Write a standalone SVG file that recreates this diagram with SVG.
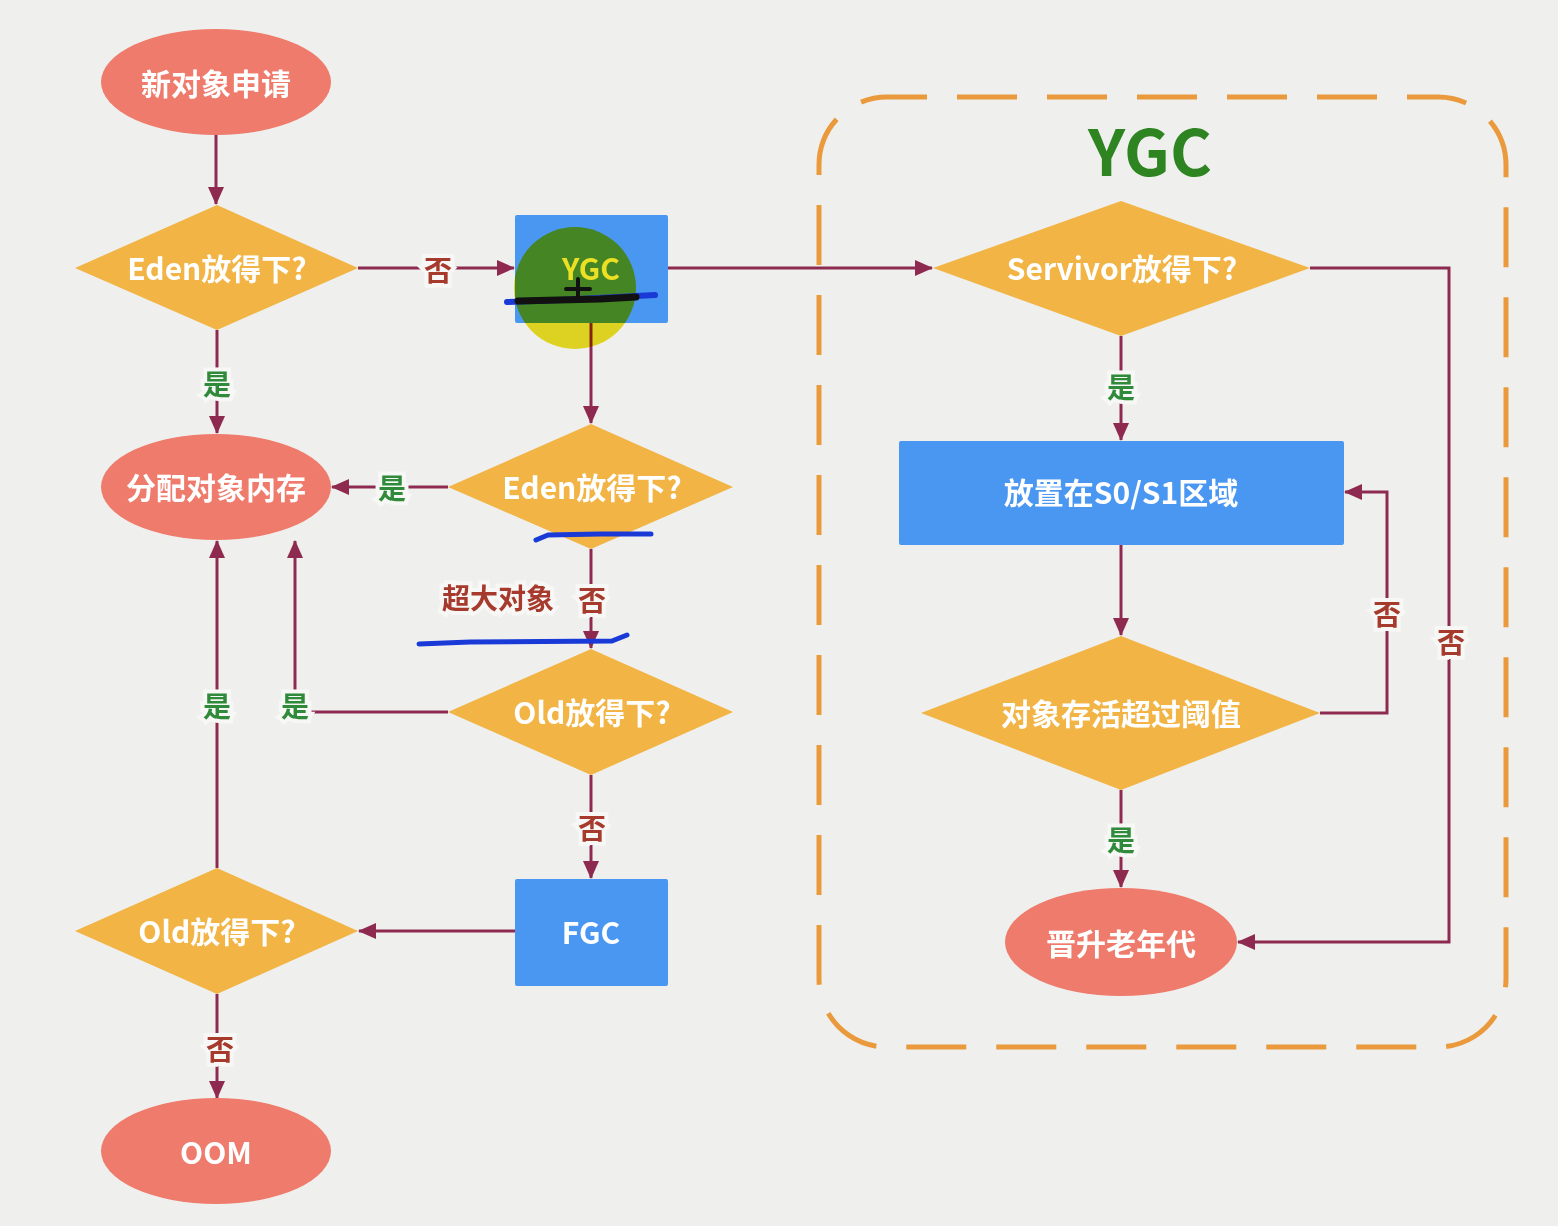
<svg xmlns="http://www.w3.org/2000/svg" width="1558" height="1226" viewBox="0 0 1558 1226">
<defs>
<marker id="arr" markerUnits="userSpaceOnUse" markerWidth="18" markerHeight="16" refX="17" refY="8" orient="auto">
<path d="M0,0 L18,8 L0,16 Z" fill="#8e2a50"/>
</marker>
<style>
.bg{fill:#eff0ee}
.ell{fill:#ee7b6b}
.dia{fill:#f1b445}
.box{fill:#4a97f2}
.nt{font-family:"Noto Sans CJK SC","Noto Sans",sans-serif;font-weight:700;font-size:30px;fill:#ffffff;text-anchor:middle;dominant-baseline:central}
.ln{fill:none;stroke:#8e2a50;stroke-width:3}
.halo{fill:none;stroke:#f3c9d6;stroke-width:6}
.no{font-family:"Noto Sans CJK SC",sans-serif;font-size:28px;font-weight:700;fill:#a63a2c;text-anchor:middle;dominant-baseline:central;stroke:#f7f7f5;stroke-width:8;paint-order:stroke}
.yes{font-family:"Noto Sans CJK SC",sans-serif;font-size:28px;font-weight:700;fill:#2f8a3a;text-anchor:middle;dominant-baseline:central;stroke:#f7f7f5;stroke-width:8;paint-order:stroke}
.mark{fill:none;stroke-linecap:round;stroke-linejoin:round}
</style>
</defs>
<rect class="bg" x="0" y="0" width="1558" height="1226"/>

<g id="ygc-region">
<rect x="819" y="97" width="687" height="950" rx="68" fill="none" stroke="#ea9a3c" stroke-width="5" stroke-dasharray="60 30" stroke-dashoffset="20"/>
<text x="1150" y="148" font-family="Noto Sans CJK SC, sans-serif" font-weight="700" font-size="64" fill="#2e8420" text-anchor="middle" dominant-baseline="central">YGC</text>
</g>

<g id="connectors">
<path class="ln" d="M216,135 L216,204" marker-end="url(#arr)"/>
<path class="ln" d="M358,268 L514,268" marker-end="url(#arr)"/>
<path class="ln" d="M217,330 L217,433" marker-end="url(#arr)"/>
<path class="ln" d="M668,268 L932,268" marker-end="url(#arr)"/>
<path class="ln" d="M591,323 L591,423" marker-end="url(#arr)"/>
<path class="ln" d="M448,487 L332,487" marker-end="url(#arr)"/>
<path class="ln" d="M591,549 L591,648" marker-end="url(#arr)"/>
<path class="ln" d="M448,712 L295,712 L295,541" marker-end="url(#arr)"/>
<path class="ln" d="M591,775 L591,878" marker-end="url(#arr)"/>
<path class="ln" d="M515,931 L359,931" marker-end="url(#arr)"/>
<path class="ln" d="M217,868 L217,541" marker-end="url(#arr)"/>
<path class="ln" d="M217,994 L217,1098" marker-end="url(#arr)"/>
<path class="ln" d="M1121,336 L1121,440" marker-end="url(#arr)"/>
<path class="ln" d="M1310,268 L1449,268 L1449,942 L1238,942" marker-end="url(#arr)"/>
<path class="ln" d="M1121,545 L1121,635" marker-end="url(#arr)"/>
<path class="ln" d="M1320,713 L1387,713 L1387,492 L1345,492" marker-end="url(#arr)"/>
<path class="ln" d="M1121,790 L1121,887" marker-end="url(#arr)"/>
<text class="no" x="438" y="269">否</text>
<text class="yes" x="217" y="383">是</text>
<text class="yes" x="392" y="487">是</text>
<text class="no" x="592" y="599">否</text>
<text class="no" x="498" y="597" stroke="none">超大对象</text>
<text class="yes" x="295" y="705">是</text>
<text class="yes" x="217" y="705">是</text>
<text class="no" x="592" y="827">否</text>
<text class="no" x="220" y="1048">否</text>
<text class="yes" x="1121" y="386">是</text>
<text class="no" x="1387" y="613">否</text>
<text class="no" x="1451" y="641">否</text>
<text class="yes" x="1121" y="839">是</text>
</g>

<g id="n-new"><ellipse class="ell" cx="216" cy="82" rx="115" ry="53"/><text class="nt" x="216" y="82">新对象申请</text></g>
<g id="n-eden1"><polygon class="dia" points="75,268 217,205 358,268 217,330"/><text class="nt" x="217" y="267">Eden放得下?</text></g>
<g id="n-ygc"><rect class="box" x="515" y="215" width="153" height="108" rx="2"/><text class="nt" x="591" y="267">YGC</text></g>
<g id="n-eden2"><polygon class="dia" points="448,487 591,424 733,487 591,549"/><text class="nt" x="592" y="486">Eden放得下?</text></g>
<g id="n-alloc"><ellipse class="ell" cx="216" cy="487" rx="115" ry="53"/><text class="nt" x="216" y="486">分配对象内存</text></g>
<g id="n-old1"><polygon class="dia" points="448,712 591,649 733,712 591,775"/><text class="nt" x="592" y="711">Old放得下?</text></g>
<g id="n-fgc"><rect class="box" x="515" y="879" width="153" height="107" rx="2"/><text class="nt" x="591" y="931">FGC</text></g>
<g id="n-old2"><polygon class="dia" points="75,931 217,868 358,931 217,994"/><text class="nt" x="217" y="930">Old放得下?</text></g>
<g id="n-oom"><ellipse class="ell" cx="216" cy="1151" rx="115" ry="53"/><text class="nt" x="216" y="1151">OOM</text></g>
<g id="n-survivor"><polygon class="dia" points="933,268 1121,201 1310,268 1121,336"/><text class="nt" x="1122" y="267">Servivor放得下?</text></g>
<g id="n-s0s1"><rect class="box" x="899" y="441" width="445" height="104" rx="2"/><text class="nt" x="1121" y="491">放置在S0/S1区域</text></g>
<g id="n-threshold"><polygon class="dia" points="921,713 1121,636 1320,713 1121,790"/><text class="nt" x="1121" y="712">对象存活超过阈值</text></g>
<g id="n-promote"><ellipse class="ell" cx="1121" cy="942" rx="116" ry="54"/><text class="nt" x="1121" y="942">晋升老年代</text></g>

<g id="annotations">
<circle cx="575" cy="288" r="61" fill="#ece024" style="mix-blend-mode:multiply"/>
<path class="mark" d="M507,302 L560,300 L655,295" stroke="#1a3ad8" stroke-width="6"/>
<path class="mark" d="M518,301 L600,299 L636,297" stroke="#111111" stroke-width="7"/>
<path class="mark" d="M578,279 L578,297 M566,289 L590,289" stroke="#111111" stroke-width="4"/>
<path class="mark" d="M536,540 L548,535 L600,534 L651,534" stroke="#1a3ad8" stroke-width="5"/>
<path class="mark" d="M419,644 L470,642 L612,641 L627,635" stroke="#1a3ad8" stroke-width="5"/>
</g>
</svg>
